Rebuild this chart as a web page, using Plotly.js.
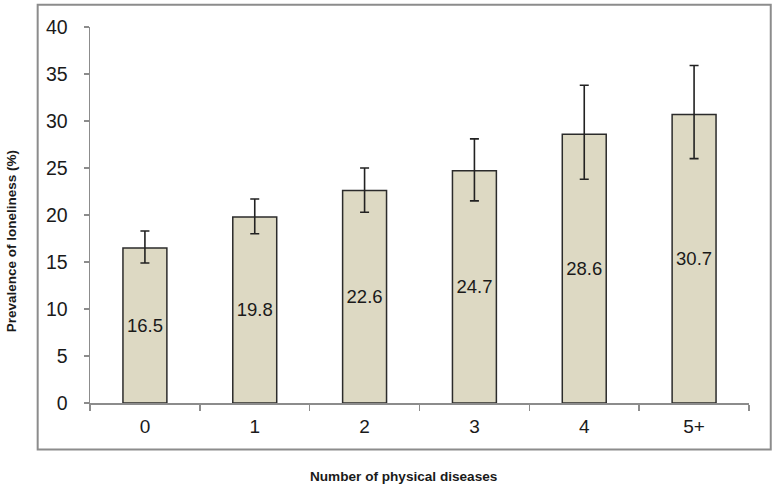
<!DOCTYPE html>
<html>
<head>
<meta charset="utf-8">
<script src="https://cdn.plot.ly/plotly-3.0.1.min.js"></script>
<style>html,body{margin:0;padding:0;background:#fff}#chart{width:777px;height:489px}</style>
</head>
<body>
<div id="chart"></div>
<script>
const categories = ["0", "1", "2", "3", "4", "5+"];
const prevalence = [16.5, 19.8, 22.6, 24.7, 28.6, 30.7];
const upperCI = [18.3, 21.7, 25.0, 28.1, 33.8, 35.9];
const lowerCI = [14.9, 18.0, 20.3, 21.5, 23.8, 26.0];
const yTicks = [0, 5, 10, 15, 20, 25, 30, 35, 40];
const xTitle = "Number of physical diseases";
const yTitle = "Prevalence of loneliness (%)";

const errPlus = prevalence.map((v, i) => +(upperCI[i] - v).toFixed(2));
const errMinus = prevalence.map((v, i) => +(v - lowerCI[i]).toFixed(2));

const trace = {
  type: "bar",
  x: categories,
  y: prevalence,
  text: prevalence.map(v => v.toFixed(1)),
  textposition: "inside",
  insidetextanchor: "middle",
  textangle: 0,
  textfont: {family: "Liberation Sans, Arial, sans-serif", size: 18.5, color: "#1a1a1a"},
  marker: {color: "#DDD9C3", line: {color: "#2b2b2b", width: 1.5}},
  error_y: {type: "data", symmetric: false, array: errPlus, arrayminus: errMinus,
            color: "#222222", thickness: 1.6, width: 4.5},
  width: 0.4,
  hoverinfo: "skip"
};

const layout = {
  width: 777, height: 489,
  margin: {l: 90, r: 28, t: 27, b: 86},
  paper_bgcolor: "#ffffff",
  plot_bgcolor: "#ffffff",
  font: {family: "Liberation Sans, Arial, sans-serif", color: "#1a1a1a"},
  showlegend: false,
  xaxis: {
    type: "category",
    showline: true, linecolor: "#8c8c8c", linewidth: 1.5,
    ticks: "outside", tickson: "boundaries", ticklen: 6, tickcolor: "#8c8c8c", tickwidth: 1.5,
    tickfont: {size: 19},
    ticklabelstandoff: 6,
    showgrid: false, zeroline: false
  },
  yaxis: {
    range: [0, 40],
    tickvals: yTicks,
    ticktext: yTicks.map(String),
    showline: true, linecolor: "#8c8c8c", linewidth: 1.5,
    ticks: "outside", ticklen: 5, tickcolor: "#8c8c8c", tickwidth: 1.5,
    tickfont: {size: 19.5},
    ticklabelstandoff: 12,
    showgrid: false, zeroline: false
  },
  annotations: [
    {text: "<b>" + xTitle + "</b>", xref: "paper", yref: "paper", x: 0.475, y: -0.195,
     xanchor: "center", yanchor: "middle", showarrow: false, font: {size: 13.6}},
    {text: "<b>" + yTitle + "</b>", xref: "paper", yref: "paper", x: -0.1199, y: 0.430,
     xanchor: "center", yanchor: "middle", textangle: -90, showarrow: false, font: {size: 13.5}}
  ],
  shapes: [{
    type: "rect", xref: "paper", yref: "paper",
    x0: -0.0794, x1: 1.033, y0: -0.124, y1: 1.0593,
    line: {color: "#8c8c8c", width: 2}, fillcolor: "rgba(0,0,0,0)", layer: "below"
  }]
};

Plotly.newPlot("chart", [trace], layout, {displayModeBar: false, staticPlot: true});
</script>
</body>
</html>
